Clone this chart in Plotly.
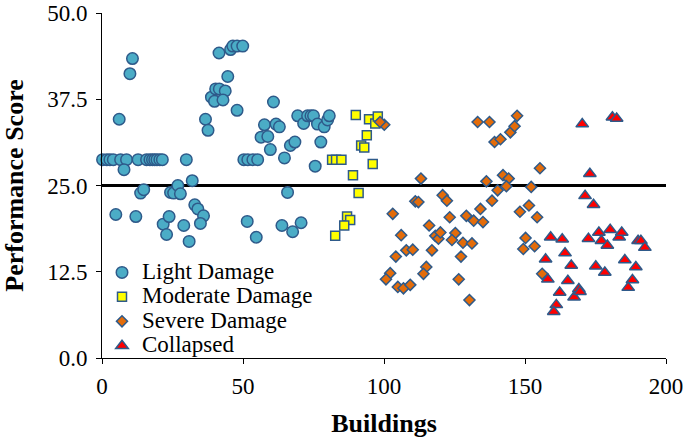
import plotly.graph_objects as go

# ---- data ----
light_x = [0.2, 1.7, 2.8, 4.0, 6.6, 8.7, 7.8, 6.1, 4.9, 12.0, 9.9, 10.8, 12.8, 15.8, 17.0, 17.9, 18.7,
           19.5, 20.5, 21.4, 13.7, 14.8, 21.7, 23.8, 22.9, 24.3, 25.4, 26.9, 27.8, 29.0, 30.9, 29.9,
           32.0, 32.9, 34.0, 36.0, 34.9, 36.7, 37.6, 38.8, 40.3, 39.9, 41.5, 45.6, 46.4, 47.9, 49.9,
           44.6, 41.6, 43.7, 42.9, 47.9, 60.8, 50.3, 51.7, 53.5, 55.2, 57.6, 56.4, 58.8, 59.7, 61.7,
           62.9, 64.7, 66.8, 68.4, 69.4, 71.5, 72.9, 74.1, 75.0, 76.4, 78.8, 80.0, 80.6, 77.6, 75.6,
           65.8, 51.5, 54.7, 63.8, 67.6, 70.6]
light_y = [28.75, 28.75, 28.75, 28.75, 28.75, 28.75, 27.3, 34.6, 20.8, 20.5, 41.2, 43.4, 28.75, 28.75,
           28.75, 28.75, 28.75, 28.75, 28.75, 28.75, 23.9, 24.4, 19.4, 20.5, 17.9, 24.0, 23.9, 25.0,
           23.8, 19.2, 16.9, 28.75, 25.7, 22.2, 21.6, 20.6, 19.5, 34.6, 33.0, 37.8, 39.0, 37.2, 44.2,
           44.7, 45.2, 45.2, 45.2, 40.8, 39.0, 38.7, 37.4, 35.9, 37.1, 28.75, 28.75, 28.75, 28.75,
           33.8, 32.0, 32.1, 30.2, 33.9, 33.5, 29.0, 30.8, 31.3, 35.1, 34.0, 35.1, 35.1, 35.1, 33.9,
           33.5, 34.5, 35.1, 31.3, 27.8, 24.0, 19.8, 17.5, 19.2, 18.3, 19.6]

moderate_x = [90.0, 94.7, 96.9, 97.8, 93.9, 91.9, 93.0, 81.6, 83.0, 84.9, 96.0, 89.0, 91.0, 86.9,
              88.0, 85.9, 82.7]
moderate_y = [35.2, 34.6, 34.0, 35.0, 32.3, 30.8, 30.5, 28.75, 28.75, 28.75, 28.1, 26.5, 23.9, 20.5,
              20.0, 19.2, 17.7]

severe_x = [100.1, 98.6, 113.1, 111.1, 112.2, 103.1, 106.1, 104.2, 102.2, 100.7, 104.9, 106.9, 109.3,
            107.9, 110.2, 116.0, 118.2, 119.3, 120.0, 117.0, 115.0, 114.0, 120.8, 122.3, 123.3, 125.3,
            124.1, 128.0, 131.2, 127.3, 126.5, 130.3, 129.2, 131.8, 135.1, 134.2, 138.3, 136.3, 140.3,
            142.2, 144.2, 143.4, 133.2, 137.4, 139.2, 141.3, 144.8, 146.3, 147.2, 155.3, 152.2, 151.4,
            148.2, 154.3, 150.2, 153.4, 149.4, 156.1]
severe_y = [33.8, 34.2, 26.0, 22.7, 22.6, 20.9, 17.8, 14.7, 12.3, 11.4, 10.3, 10.1, 10.6, 15.6, 15.7,
            19.2, 17.7, 17.3, 18.2, 15.6, 13.2, 12.2, 23.6, 22.8, 20.4, 18.1, 17.1, 16.7, 16.6, 14.7,
            11.4, 8.4, 20.6, 19.9, 19.7, 21.6, 22.8, 25.6, 24.3, 26.5, 26.0, 24.9, 34.2, 34.2, 31.3,
            31.7, 32.7, 33.6, 35.1, 27.5, 24.8, 22.1, 21.2, 20.4, 17.4, 16.2, 15.8, 12.2]

collapsed_x = [170.3, 181.0, 182.5, 173.0, 171.3, 174.3, 159.1, 163.2, 157.3, 164.2, 166.4, 158.1,
               165.2, 162.3, 161.1, 160.2, 167.4, 169.1, 169.5, 172.5, 176.2, 177.1, 180.2, 179.2,
               183.4, 184.3, 175.1, 178.3, 185.4, 189.3, 188.1, 186.6, 190.1, 191.1, 192.5]
collapsed_y = [33.9, 34.9, 34.7, 26.7, 23.5, 22.2, 17.5, 17.2, 14.3, 15.2, 13.4, 11.4, 11.2, 9.5, 7.7,
               6.7, 8.8, 10.0, 9.6, 17.3, 18.2, 17.0, 18.6, 16.3, 17.5, 18.2, 13.3, 12.4, 14.2, 13.2,
               11.3, 10.2, 17.0, 17.0, 16.0]

threshold_x = [0, 200]
threshold_y = [25.0, 25.0]

y_ticks = [0.0, 12.5, 25.0, 37.5, 50.0]
x_ticks = [0, 50, 100, 150, 200]

EDGE = "#2E5A8A"
SERIF = "Liberation Serif, Times New Roman, serif"


def lname(t):
    return '<span style="font-size:23px">' + t + '</span>'


fig = go.Figure()
fig.add_trace(go.Scatter(x=threshold_x, y=threshold_y, mode="lines",
                         line=dict(color="black", width=3), showlegend=False,
                         hoverinfo="skip", cliponaxis=False))
fig.add_trace(go.Scatter(x=light_x, y=light_y, mode="markers", name=lname("Light Damage"),
                         cliponaxis=False,
                         marker=dict(symbol="circle", size=11.5, color="#4BACC6",
                                     line=dict(color=EDGE, width=1.5))))
fig.add_trace(go.Scatter(x=moderate_x, y=moderate_y, mode="markers", name=lname("Moderate Damage"),
                         cliponaxis=False,
                         marker=dict(symbol="square", size=9, color="#FFFF00",
                                     line=dict(color=EDGE, width=1.5))))
fig.add_trace(go.Scatter(x=severe_x, y=severe_y, mode="markers", name=lname("Severe Damage"),
                         cliponaxis=False,
                         marker=dict(symbol="diamond", size=8.5, color="#E36C0A",
                                     line=dict(color=EDGE, width=1.5))))
fig.add_trace(go.Scatter(x=collapsed_x, y=collapsed_y, mode="markers", name=lname("Collapsed"),
                         cliponaxis=False,
                         marker=dict(symbol="triangle-up", size=11, color="#FF0000",
                                     line=dict(color=EDGE, width=1.5))))

fig.update_layout(
    width=685, height=438,
    autosize=False,
    margin=dict(l=102, r=19, t=13, b=80, autoexpand=False),
    paper_bgcolor="white", plot_bgcolor="white",
    font=dict(family=SERIF, color="black", size=23),
    showlegend=True,
    legend=dict(x=0.0, y=-0.015, xanchor="left", yanchor="bottom",
                bgcolor="rgba(0,0,0,0)", font=dict(family=SERIF, size=16.5, color="black"),
                tracegroupgap=0, itemwidth=30),
    xaxis=dict(range=[0, 200], tickvals=x_ticks, ticktext=[str(v) for v in x_ticks],
               automargin=False,
               showgrid=False, zeroline=False, showline=True, linecolor="black", linewidth=1,
               ticks="outside", ticklen=5, tickcolor="black", ticklabelstandoff=2,
               tickfont=dict(family=SERIF, size=23),
               title=dict(text="Buildings", font=dict(family=SERIF, size=26, weight="bold"),
                          standoff=17)),
    yaxis=dict(range=[0, 50], tickvals=y_ticks, ticktext=["%.1f" % v for v in y_ticks],
               automargin=False,
               showgrid=False, zeroline=False, showline=True, linecolor="black", linewidth=1,
               ticks="outside", ticklen=5, tickcolor="black", ticklabelstandoff=4,
               tickfont=dict(family=SERIF, size=23),
               title=dict(text="Performance Score", font=dict(family=SERIF, size=26, weight="bold"),
                          standoff=20)),
)

fig.write_html("out.html", config={"responsive": False, "displayModeBar": False},
               post_script="document.body.style.margin='0px';")
